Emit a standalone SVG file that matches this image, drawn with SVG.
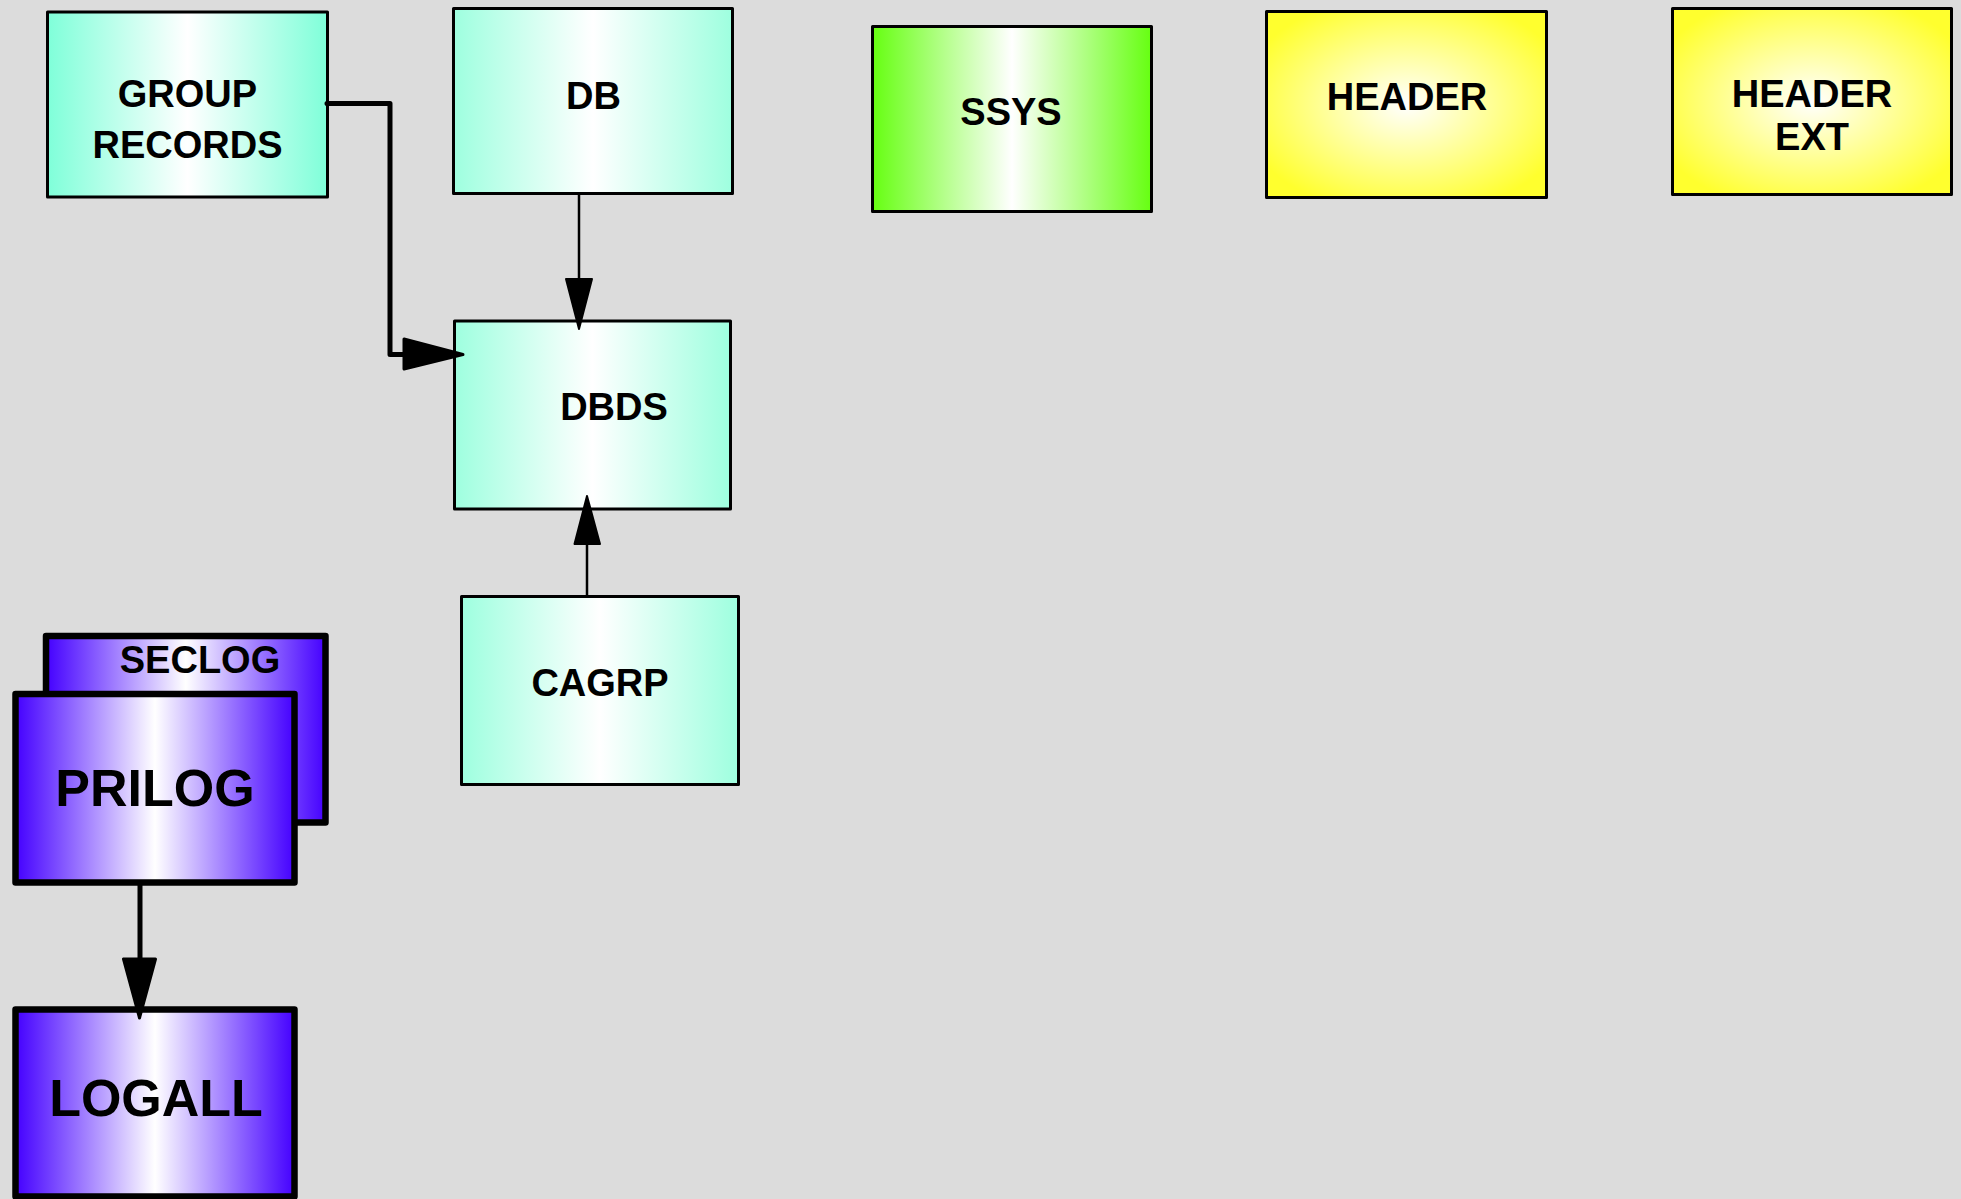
<svg xmlns="http://www.w3.org/2000/svg" width="1961" height="1199" viewBox="0 0 1961 1199">
<defs>
<style>
.lbl{font-family:"Liberation Sans",Arial,sans-serif;font-weight:bold;font-size:38px;fill:#000;text-anchor:middle}
.big{font-size:52px}
.thin{stroke:#000;stroke-width:3;stroke-linejoin:round}
.thick{stroke:#000;stroke-width:6.5;stroke-linejoin:round}
.conn{fill:none;stroke:#000;stroke-linejoin:round;stroke-linecap:round}
.head{fill:#000;stroke:#000;stroke-linejoin:round}
</style>
<linearGradient id="gAqua1" x1="0" y1="0" x2="1" y2="0">
<stop offset="0" stop-color="#7fffd9"/><stop offset="0.5" stop-color="#ffffff"/><stop offset="1" stop-color="#7fffd9"/>
</linearGradient>
<linearGradient id="gAqua2" x1="0" y1="0" x2="1" y2="0">
<stop offset="0" stop-color="#9effdf"/><stop offset="0.5" stop-color="#ffffff"/><stop offset="1" stop-color="#9effdf"/>
</linearGradient>
<linearGradient id="gGreen" x1="0" y1="0" x2="1" y2="0">
<stop offset="0" stop-color="#66ff11"/><stop offset="0.5" stop-color="#ffffff"/><stop offset="1" stop-color="#66ff11"/>
</linearGradient>
<radialGradient id="gYellow" cx="0.5" cy="0.5" r="0.6">
<stop offset="0" stop-color="#ffffff"/><stop offset="1" stop-color="#ffff2e"/>
</radialGradient>
<linearGradient id="gPurple" x1="0" y1="0" x2="1" y2="0">
<stop offset="0" stop-color="#4400ff"/><stop offset="0.5" stop-color="#ffffff"/><stop offset="1" stop-color="#4400ff"/>
</linearGradient>
</defs>
<rect x="0" y="0" width="1961" height="1199" fill="#dcdcdc"/>

<g id="node-group-records">
<rect class="thin" x="47.5" y="12" width="280" height="185" fill="url(#gAqua1)"/>
<text class="lbl" x="187.5" y="107">GROUP</text>
<text class="lbl" x="187.5" y="158">RECORDS</text>
</g>
<g id="node-db">
<rect class="thin" x="453.5" y="8.5" width="279" height="185" fill="url(#gAqua2)"/>
<text class="lbl" x="593.5" y="109">DB</text>
</g>
<g id="node-dbds">
<rect class="thin" x="454.5" y="321" width="276" height="188" fill="url(#gAqua2)"/>
<text class="lbl" x="614" y="420">DBDS</text>
</g>
<g id="node-cagrp">
<rect class="thin" x="461.5" y="596.5" width="277" height="188" fill="url(#gAqua2)"/>
<text class="lbl" x="600" y="696">CAGRP</text>
</g>
<g id="node-ssys">
<rect class="thin" x="872.5" y="26.5" width="279" height="185" fill="url(#gGreen)"/>
<text class="lbl" x="1011" y="125">SSYS</text>
</g>
<g id="node-header">
<rect class="thin" x="1266.5" y="11.5" width="280" height="186" fill="url(#gYellow)"/>
<text class="lbl" x="1407" y="110">HEADER</text>
</g>
<g id="node-header-ext">
<rect class="thin" x="1672.5" y="8.5" width="279" height="186" fill="url(#gYellow)"/>
<text class="lbl" x="1812" y="107">HEADER</text>
<text class="lbl" x="1812" y="150">EXT</text>
</g>
<g id="node-seclog">
<rect class="thick" x="46" y="636" width="279.5" height="186.5" fill="url(#gPurple)"/>
<text class="lbl" x="200" y="673">SECLOG</text>
</g>
<g id="node-prilog">
<rect class="thick" x="15.5" y="694" width="279" height="188.5" fill="url(#gPurple)"/>
<text class="lbl big" x="155" y="806">PRILOG</text>
</g>
<g id="node-logall">
<rect class="thick" x="15.5" y="1009.5" width="279" height="187" fill="url(#gPurple)"/>
<text class="lbl big" x="156" y="1116">LOGALL</text>
</g>

<g id="connectors">
<path class="conn" stroke-width="5" d="M327,103.5 H390 V354.5 H405"/>
<polygon class="head" stroke-width="3" points="404,339 463,354.5 404,369"/>
<path class="conn" stroke-width="2.5" d="M579,195 V280"/>
<polygon class="head" stroke-width="2" points="566,279 592,279 579,329"/>
<path class="conn" stroke-width="2.5" d="M587,596 V544"/>
<polygon class="head" stroke-width="2" points="574.5,544 600,544 587,496"/>
<path class="conn" stroke-width="5" d="M140,885 V959"/>
<polygon class="head" stroke-width="3" points="123.5,959 155.5,959 139.5,1018"/>
</g>
</svg>
